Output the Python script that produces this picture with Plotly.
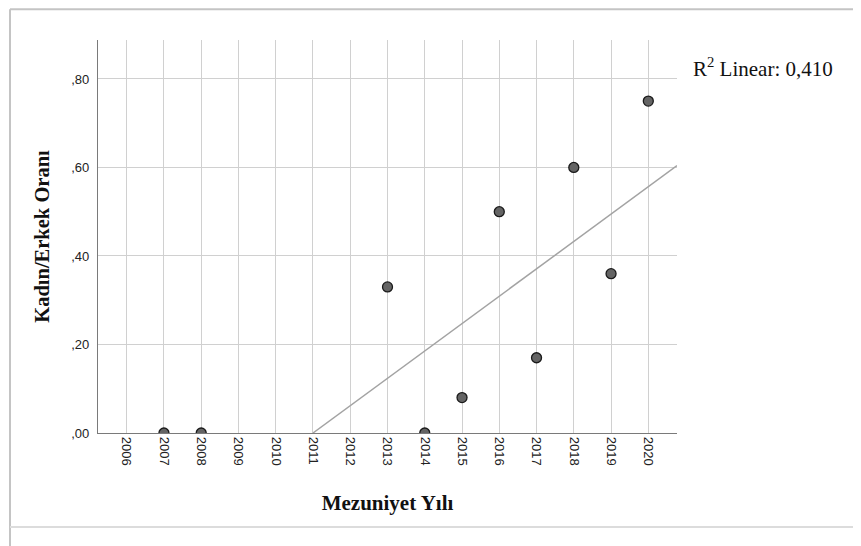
import plotly.graph_objects as go

years = [2007, 2008, 2013, 2014, 2015, 2016, 2017, 2018, 2019, 2020]
ratios = [0.00, 0.00, 0.33, 0.00, 0.08, 0.50, 0.17, 0.60, 0.36, 0.75]

tick_years = list(range(2006, 2021))
tick_year_labels = [str(y) for y in tick_years]
y_ticks = [0.0, 0.2, 0.4, 0.6, 0.8]
y_tick_labels = [",00", ",20", ",40", ",60", ",80"]

fit_x = [2011.0, 2020.77]
fit_y = [0.0, 0.604]
r2_text = "R<sup>2</sup> Linear: 0,410"

serif = "Liberation Serif"
sans = "Liberation Sans"

fig = go.Figure()
fig.add_trace(go.Scatter(x=fit_x, y=fit_y, mode="lines",
                         line=dict(color="#a3a3a3", width=1.5),
                         hoverinfo="skip", showlegend=False))
fig.add_trace(go.Scatter(x=years, y=ratios, mode="markers",
                         marker=dict(size=10, color="#646464",
                                     line=dict(color="#1a1a1a", width=1.3)),
                         showlegend=False))

fig.update_layout(
    width=853, height=538,
    margin=dict(l=90, r=184, t=32, b=113),
    paper_bgcolor="white", plot_bgcolor="white",
    font=dict(family=sans, color="#222"),
    xaxis=dict(range=[2005.23, 2020.77], tickvals=tick_years, ticktext=tick_year_labels,
               tickangle=90, tickfont=dict(family=sans, size=13, color="#222"),
               showgrid=True, gridcolor="#d0d0d0", gridwidth=1,
               showline=True, linecolor="#7a7a7a", linewidth=1.2,
               zeroline=False, ticks="", ticklen=0,
               title=dict(text="<b>Mezuniyet Yılı</b>", font=dict(family=serif, size=21, color="#111"),
                          standoff=30)),
    yaxis=dict(range=[0, 0.888], tickvals=y_ticks, ticktext=y_tick_labels,
               tickfont=dict(family=sans, size=13, color="#222"),
               ticklabelstandoff=5,
               showgrid=True, gridcolor="#d0d0d0", gridwidth=1,
               showline=True, linecolor="#7a7a7a", linewidth=1.2,
               zeroline=False, ticks="", ticklen=0,
               title=dict(text="<b>Kadın/Erkek Oranı</b>", font=dict(family=serif, size=20.5, color="#111"),
                          standoff=16)),
    annotations=[dict(text=r2_text, xref="paper", yref="paper",
                      x=1.0, y=0.93, xanchor="left", yanchor="middle",
                      xshift=14, showarrow=False,
                      font=dict(family=serif, size=21, color="#111"))],
    shapes=[
        dict(type="line", xref="paper", yref="paper", x0=-0.152, x1=1.4, y0=1.078, y1=1.078,
             line=dict(color="#c4c4c4", width=2)),
        dict(type="line", xref="paper", yref="paper", x0=-0.152, x1=-0.152, y0=1.078, y1=-0.3,
             line=dict(color="#c4c4c4", width=2)),
        dict(type="line", xref="paper", yref="paper", x0=-0.152, x1=1.4, y0=-0.239, y1=-0.239,
             line=dict(color="#dcdcdc", width=2)),
    ],
)

fig.write_html("out.html")
